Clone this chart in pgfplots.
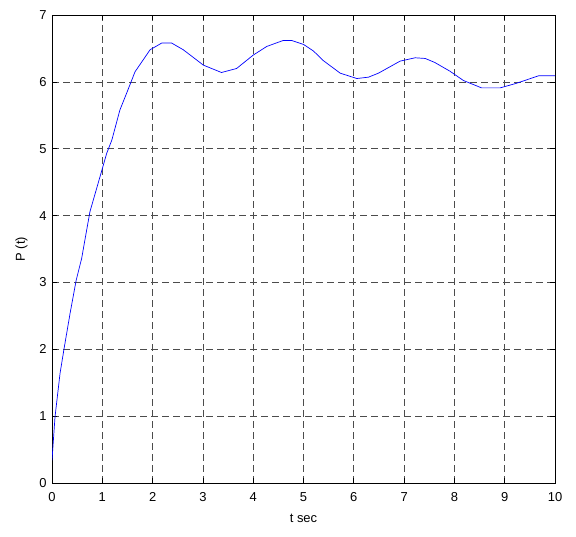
\documentclass[border=0pt]{standalone}
\usepackage{pgfplots}
\pgfplotsset{compat=1.18}
\usepackage{fontspec}
\setmainfont{Liberation Sans}
\begin{document}
\fontsize{13}{15}\selectfont
\begin{tikzpicture}
\useasboundingbox (0,0) rectangle (576bp,537bp);
\begin{axis}[
  at={(52bp,54bp)}, anchor=south west,
  scale only axis, width=503bp, height=468bp,
  xmin=0, xmax=10, ymin=0, ymax=7,
  xtick={0,1,...,10}, ytick={0,1,...,7},
  grid=major,
  major grid style={black!70, dash pattern=on 7bp off 4bp, line width=0.7pt},
  axis line style={black, line width=0.7pt},
  tick align=inside, tick style={black, line width=0.7pt}, major tick length=5bp,
  /pgf/number format/assume math mode=true,
  ticklabel style={font=\fontsize{13}{15}\selectfont},
  xticklabel style={yshift=-5bp},
  yticklabel style={xshift=-1bp},
  xlabel={t sec}, ylabel={P (t)},
  label style={font=\fontsize{13}{15}\selectfont},
  xlabel style={at={(axis description cs:0.5,0)}, anchor=north, yshift=-27bp},
  ylabel style={at={(axis description cs:0,0.5)}, anchor=south, yshift=20bp},
]
\addplot[blue, line width=0.7pt] coordinates {
(0,0.34) (0.06,0.99) (0.16,1.64) (0.24,2.01) (0.36,2.54) (0.48,3.03) (0.59,3.36)
(0.66,3.66) (0.755,4.06) (0.954,4.58) (1.087,4.93) (1.19,5.13) (1.35,5.58)
(1.52,5.90) (1.65,6.15) (1.95,6.48) (2.18,6.58) (2.38,6.58) (2.61,6.48)
(3.01,6.25) (3.37,6.14) (3.67,6.20) (4.0,6.40) (4.27,6.53) (4.60,6.62)
(4.76,6.62) (5.0,6.56) (5.2,6.46) (5.39,6.32) (5.73,6.13) (6.06,6.05)
(6.29,6.07) (6.49,6.13) (6.92,6.31) (7.22,6.36) (7.42,6.35) (7.61,6.29)
(7.91,6.16) (8.18,6.02) (8.54,5.91) (8.91,5.91) (9.24,5.98) (9.67,6.09) (10,6.09)
};
\end{axis}
\end{tikzpicture}
\end{document}
